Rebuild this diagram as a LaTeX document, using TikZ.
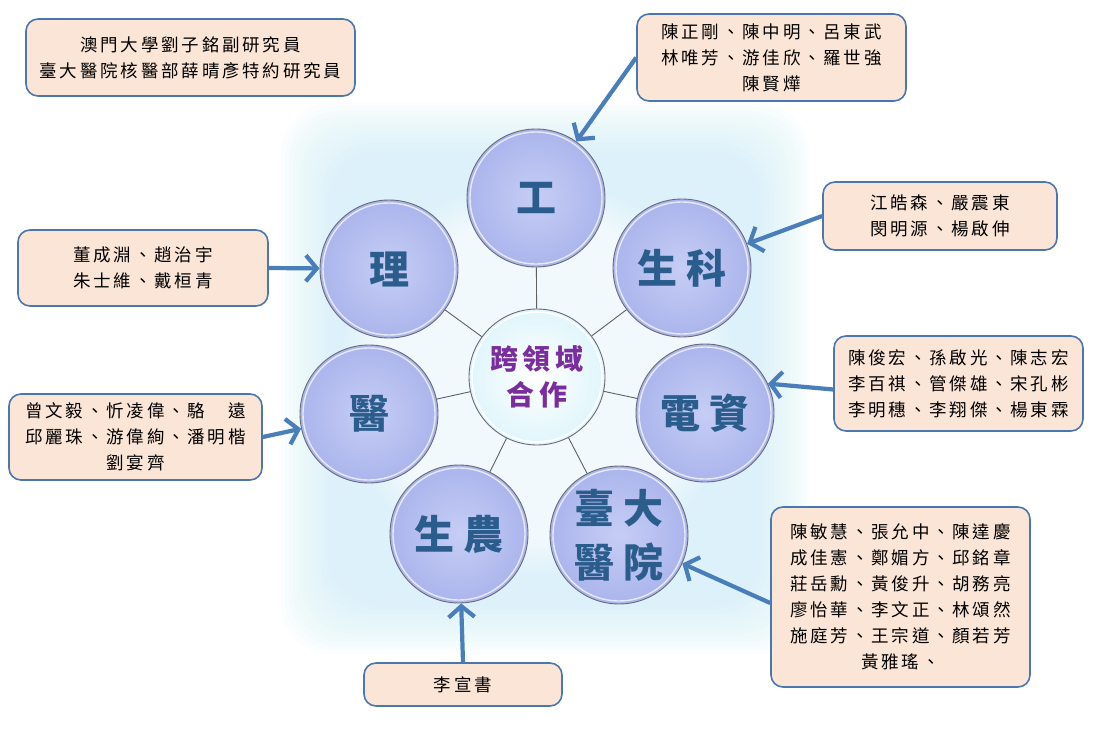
\documentclass[tikz,border=0pt]{standalone}
\usepackage{fontspec}
\setmainfont{Noto Sans CJK TC}
\newfontfamily\boxfont[LetterSpace=16]{Noto Sans CJK TC}
\newfontfamily\discfont[LetterSpace=22]{Noto Sans CJK TC}
\usetikzlibrary{arrows.meta,fadings}
\pgfdeclarelayer{background}
\pgfsetlayers{background,main}
\definecolor{boxfill}{HTML}{FBE5D6}
\definecolor{boxline}{HTML}{4A78AE}
\definecolor{arrowc}{HTML}{4A7EBB}
\definecolor{disctext}{HTML}{2B5D8C}
\definecolor{centertext}{HTML}{7A2E9E}
\definecolor{glow}{HTML}{D2F1FA}
\definecolor{discin}{HTML}{C6CDF5}
\definecolor{discout}{HTML}{ABB5EC}
\definecolor{ringc}{HTML}{6A6A78}
\begin{document}
\begin{tikzpicture}[x=1pt,y=-1pt,
  namebox/.style={draw=boxline, line width=1.6pt, fill=boxfill, rounded corners=12pt,
    inner sep=0pt, align=center, font=\boxfont\fontsize{17.5}{26}\selectfont},
  disc/.style={circle, minimum size=138pt, inner sep=0pt, draw=ringc, line width=0.9pt,
    inner color=discin, outer color=discout, text=disctext, align=center,
    font=\discfont\bfseries\fontsize{40}{54}\selectfont,
    path picture={\draw[white, opacity=0.7, line width=1.4pt] (path picture bounding box.center) circle (66pt);}},
  hub/.style={circle, minimum size=136pt, inner sep=0pt, draw=ringc, line width=0.9pt,
    inner color=white, outer color=glow!70!white, text=centertext, align=center,
    font=\boxfont\bfseries\fontsize{28}{36}\selectfont,
    path picture={\draw[white, line width=1.6pt] (path picture bounding box.center) circle (65pt);}},
  spoke/.style={draw=gray!75!black, line width=0.9pt},
  arr/.style={draw=arrowc, line width=4.2pt, -{Straight Barb[length=11pt,width=26pt]}}
]
\useasboundingbox (0,0) rectangle (1094,730);
\begin{pgfonlayer}{background}
\fill[white] (0,0) rectangle (1094,730);
\foreach \i in {0,...,13}
  \fill[glow, opacity=0.075, rounded corners=50pt] (281+\i*4,103+\i*4) rectangle (809-\i*4,654-\i*4);
\fill[white, path fading=circle with fuzzy edge 20 percent, opacity=0.6] (537,377) circle (200pt);
\end{pgfonlayer}

% discs
\node[hub]  (hub)  at (537,377) {跨領域\\合作};
\node[disc] (gong) at (536,198) {工};
\node[disc] (li)   at (389,269) {理};
\node[disc] (sk)   at (682,268) {生科};
\node[disc] (yi)   at (369,414) {醫};
\node[disc] (dz)   at (705,413) {電資};
\node[disc] (sn)   at (459,534) {生農};
\node[disc] (ntuh) at (619,535) {臺大\\醫院};

% spokes behind discs
\begin{pgfonlayer}{background}
\foreach \o in {gong,li,sk,yi,dz,sn,ntuh}
  \draw[spoke] (hub) -- (\o);
\end{pgfonlayer}

% boxes
\node[namebox, minimum width=329pt, minimum height=77pt] (b1) at (190.5,57.5)
  {澳門大學劉子銘副研究員\\臺大醫院核醫部薛晴彥特約研究員};
\node[namebox, minimum width=269pt, minimum height=87pt] (b2) at (771.5,57.5)
  {陳正剛、陳中明、呂東武\\林唯芳、游佳欣、羅世強\\陳賢燁};
\node[namebox, minimum width=234pt, minimum height=68pt] (b3) at (940,216)
  {江皓森、嚴震東\\閔明源、楊啟伸};
\node[namebox, minimum width=249pt, minimum height=95pt] (b4) at (958.5,383.5)
  {陳俊宏、孫啟光、陳志宏\\李百祺、管傑雄、宋孔彬\\李明穗、李翔傑、楊東霖};
\node[namebox, minimum width=250pt, minimum height=76pt] (b5) at (143,268)
  {董成淵、趙治宇\\朱士維、戴桓青};
\node[namebox, minimum width=253pt, minimum height=86pt] (b6) at (135.5,437)
  {曾文毅、忻凌偉、駱　遠\\邱麗珠、游偉絢、潘明楷\\劉宴齊};
\node[namebox, minimum width=259pt, minimum height=180pt] (b7) at (900.5,597)
  {陳敏慧、張允中、陳達慶\\成佳憲、鄭媚方、邱銘章\\莊岳勳、黃俊升、胡務亮\\廖怡華、李文正、林頌然\\施庭芳、王宗道、顏若芳\\黃雅瑤、};
\node[namebox, minimum width=198pt, minimum height=43pt] (b8) at (463,684.5)
  {李宣書};

% arrows
\draw[arr] (b2.west) -- (gong);
\draw[arr] (b3.west) -- (sk);
\draw[arr] ([yshift=-6pt]b4.west) -- (dz.25);
\draw[arr] (b5.east) -- (li);
\draw[arr] (b6.east) -- (yi);
\draw[arr] ([yshift=-6pt]b7.west) -- (ntuh);
\draw[arr] (b8.north) -- (sn);
\end{tikzpicture}
\end{document}
